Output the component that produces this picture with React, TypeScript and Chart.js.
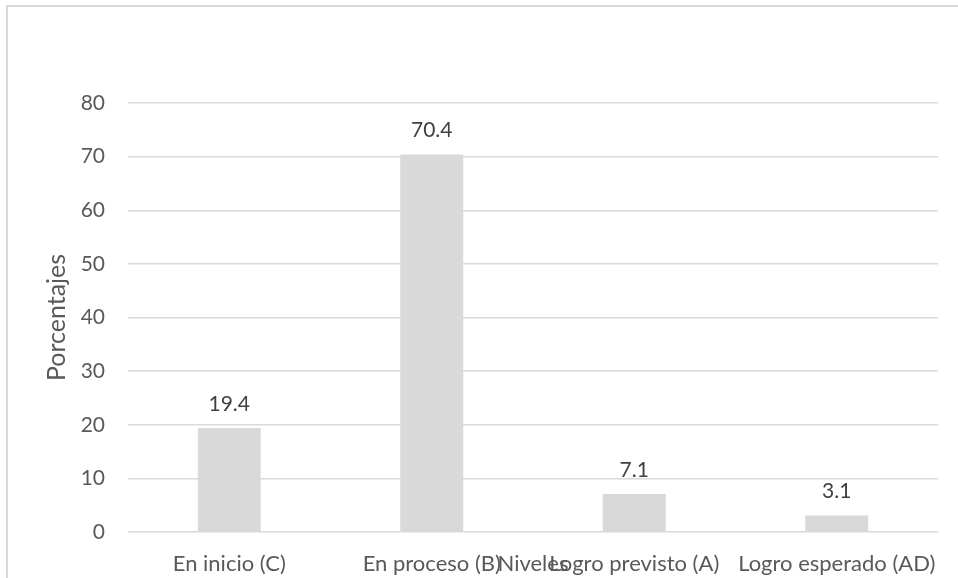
import React, { useEffect, useRef } from "react";
import { Chart, registerables } from "chart.js";

Chart.register(...registerables);

const categories = ["En inicio (C)", "En proceso (B)", "Logro previsto (A)", "Logro esperado (AD)"];
const values = [19.4, 70.4, 7.1, 3.1];
const yTicks = [0, 10, 20, 30, 40, 50, 60, 70, 80];
const yTitle = "Porcentajes";
const xTitle = "Niveles";

const FONT = "Lato, 'Open Sans', sans-serif";
const TEXT = "#595959";

const overlayPlugin = {
  id: "overlay",
  afterDatasetsDraw(chart: any) {
    const ctx = chart.ctx;
    const meta = chart.getDatasetMeta(0);
    ctx.save();
    ctx.font = `21px ${FONT}`;
    ctx.fillStyle = "#404040";
    ctx.textAlign = "center";
    ctx.textBaseline = "middle";
    meta.data.forEach((bar: any, i: number) => {
      ctx.fillText(String(values[i]), bar.x, bar.y - 24);
    });
    const area = chart.chartArea;
    ctx.font = `22px ${FONT}`;
    ctx.fillStyle = TEXT;
    ctx.fillText(xTitle, (area.left + area.right) / 2, 564);
    ctx.restore();
  },
};

export default function App() {
  const ref = useRef<HTMLCanvasElement>(null);
  useEffect(() => {
    if (!ref.current) return;
    const chart = new Chart(ref.current, {
      type: "bar",
      data: {
        labels: categories,
        datasets: [
          {
            data: values,
            backgroundColor: "#D9D9D9",
            borderWidth: 0,
            categoryPercentage: 1,
            barPercentage: 0.311,
          },
        ],
      },
      options: {
        animation: false,
        responsive: false,
        layout: { padding: { top: 103, right: 20, left: 0, bottom: 0 } },
        plugins: { legend: { display: false }, tooltip: { enabled: false } },
        scales: {
          x: {
            grid: { display: false, drawTicks: false },
            border: { display: false },
            ticks: { color: TEXT, font: { family: FONT, size: 22 }, padding: 19, maxRotation: 0, autoSkip: false },
            afterFit: (s: any) => { s.height = 46; },
          },
          y: {
            min: 0,
            max: 80,
            afterBuildTicks: (s: any) => { s.ticks = yTicks.map((v) => ({ value: v })); },
            grid: { color: "#D9D9D9", lineWidth: 1.5, drawTicks: false },
            border: { display: false },
            ticks: { color: TEXT, font: { family: FONT, size: 21 }, padding: 23 },
            title: {
              display: true,
              text: yTitle,
              color: TEXT,
              font: { family: FONT, size: 25, weight: "normal" },
              padding: { top: 42, bottom: 0 },
            },
            afterFit: (s: any) => { s.width = 128; },
          },
        },
      },
      plugins: [overlayPlugin],
    } as any);
    return () => chart.destroy();
  }, []);
  return (
    <div style={{ position: "fixed", left: 0, top: 0, width: 958, height: 578, background: "#fff" }}>
      <div
        style={{
          position: "absolute",
          left: 6,
          top: 5,
          right: -10,
          bottom: -10,
          borderLeft: "2px solid #D9D9D9",
          borderTop: "2px solid #D9D9D9",
        }}
      />
      <canvas ref={ref} width={958} height={578} style={{ position: "absolute", left: 0, top: 0, display: "block" }} />
    </div>
  );
}
